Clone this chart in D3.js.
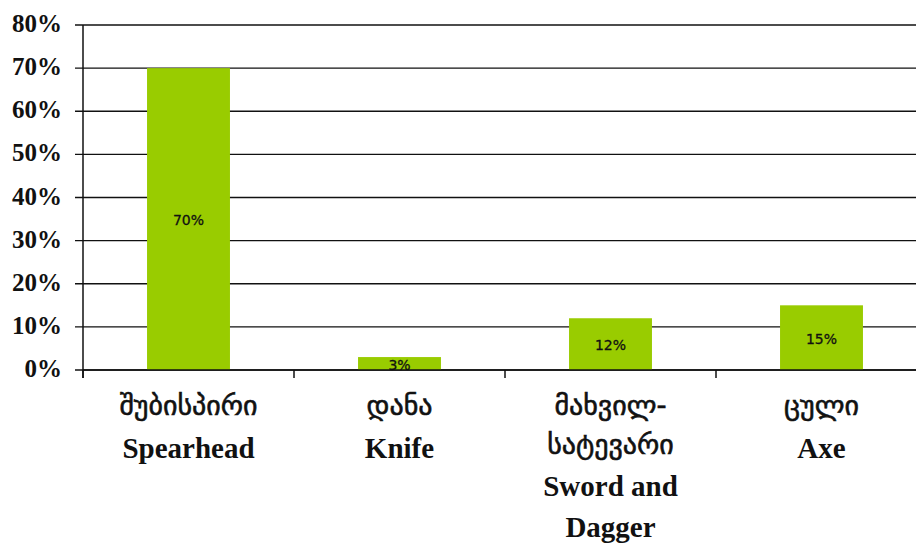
<!DOCTYPE html>
<html>
<head>
<meta charset="utf-8">
<script src="https://cdn.jsdelivr.net/npm/d3@7"></script>
<style>
    body { margin: 0; background: #fff; }
    svg { display: block; }
</style>
</head>
<body>
<div id="chart"></div>
<script>

// chart data
const categories = ['Spearhead', 'Knife', 'Sword and Dagger', 'Axe'];
const values = [0.70, 0.03, 0.12, 0.15];
const valueLabels = ['70%', '3%', '12%', '15%'];
const georgianLines = [['შუბისპირი'], ['დანა'], ['მახვილ-', 'სატევარი'], ['ცული']];
const englishLines = [['Spearhead'], ['Knife'], ['Sword and', 'Dagger'], ['Axe']];
const yTicks = [0, 0.1, 0.2, 0.3, 0.4, 0.5, 0.6, 0.7, 0.8];

const width = 916, height = 544;
const plotLeft = 83, plotRight = 927, plotTop = 25, plotBottom = 370;

const svg = d3.select('#chart').append('svg')
    .attr('width', width)
    .attr('height', height);

const x = d3.scaleBand()
    .domain(categories)
    .range([plotLeft, plotRight])
    .paddingInner(0.607)
    .paddingOuter(0.607 / 2);

const y = d3.scaleLinear()
    .domain([0, 0.8])
    .range([plotBottom, plotTop]);

// gridlines + left ticks
svg.append('g')
    .selectAll('line')
    .data(yTicks)
    .enter()
    .append('line')
    .attr('x1', plotLeft - 8)
    .attr('x2', width)
    .attr('y1', (d) => y(d))
    .attr('y2', (d) => y(d))
    .attr('stroke', '#111')
    .attr('stroke-width', 1.4);

// y labels
svg.append('g')
    .selectAll('text')
    .data(yTicks)
    .enter()
    .append('text')
    .attr('x', 62)
    .attr('y', (d) => y(d) + 7)
    .attr('text-anchor', 'end')
    .style('font-family', '"Liberation Serif", serif')
    .style('font-weight', 'bold')
    .style('font-size', '25px')
    .style('fill', '#111')
    .text((d) => d3.format('.0%')(d));

// bars
svg.append('g')
    .selectAll('rect')
    .data(categories)
    .enter()
    .append('rect')
    .attr('x', (d) => x(d))
    .attr('y', (d, i) => y(values[i]))
    .attr('width', x.bandwidth())
    .attr('height', (d, i) => y(0) - y(values[i]))
    .attr('fill', '#99cc00');

// value labels, centered in the bars
svg.append('g')
    .selectAll('text')
    .data(categories)
    .enter()
    .append('text')
    .attr('x', (d) => x(d) + x.bandwidth() / 2)
    .attr('y', (d, i) => (y(values[i]) + y(0)) / 2 + 6)
    .attr('text-anchor', 'middle')
    .style('font-family', '"DejaVu Sans", sans-serif')
    .style('font-size', '14px')
    .style('fill', '#111')
    .style('stroke', '#111')
    .style('stroke-width', 0.3)
    .text((d, i) => valueLabels[i]);

// axes lines
svg.append('line')
    .attr('x1', plotLeft).attr('x2', plotLeft)
    .attr('y1', plotTop).attr('y2', plotBottom + 8)
    .attr('stroke', '#111').attr('stroke-width', 1.5);

svg.append('line')
    .attr('x1', plotLeft).attr('x2', width)
    .attr('y1', plotBottom).attr('y2', plotBottom)
    .attr('stroke', '#111').attr('stroke-width', 1.5);

// category separator ticks
const step = x.step();
svg.append('g')
    .selectAll('line')
    .data(d3.range(categories.length + 1))
    .enter()
    .append('line')
    .attr('x1', (d) => plotLeft + d * step)
    .attr('x2', (d) => plotLeft + d * step)
    .attr('y1', plotBottom)
    .attr('y2', plotBottom + 8)
    .attr('stroke', '#111')
    .attr('stroke-width', 1.5);

// category labels: georgian lines then english lines
const lineY = [415, 454, 496, 536.5];
categories.forEach((c, i) => {
    let cx = x(c) + x.bandwidth() / 2;
    let row = 0;
    georgianLines[i].forEach((t) => {
        svg.append('text')
            .attr('x', cx)
            .attr('y', lineY[row++])
            .attr('text-anchor', 'middle')
            .style('font-family', '"DejaVu Sans", sans-serif')
            .style('font-size', '28px')
            .style('fill', '#111')
            .style('stroke', '#111')
            .style('stroke-width', 0.6)
            .text(t);
    });
    englishLines[i].forEach((t) => {
        svg.append('text')
            .attr('x', cx)
            .attr('y', lineY[row++] + (row === 2 && georgianLines[i].length === 1 ? 4 : 0))
            .attr('text-anchor', 'middle')
            .style('font-family', '"Liberation Serif", serif')
            .style('font-weight', 'bold')
            .style('font-size', '29px')
            .style('fill', '#111')
            .text(t);
    });
});

</script>
</body>
</html>
